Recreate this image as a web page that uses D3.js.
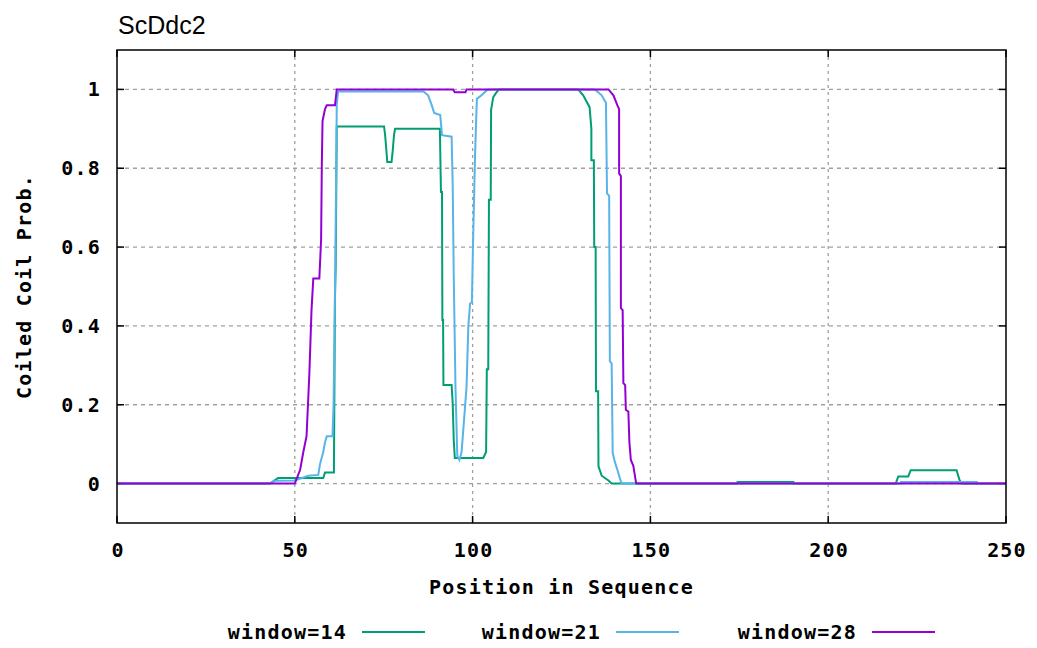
<!DOCTYPE html>
<html>
<head>
<meta charset="utf-8">
<script src="https://cdn.jsdelivr.net/npm/d3@7"></script>
<style>
  body { margin: 0; background: #fff; }
  .tick-label { font-family: "DejaVu Sans Mono", monospace; font-weight: bold; font-size: 20px; letter-spacing: 1.2px; fill: #000; }
</style>
</head>
<body>
<script>
const title = "ScDdc2";
const xTicks = [0, 50, 100, 150, 200, 250];
const yTicks = [0, 0.2, 0.4, 0.6, 0.8, 1];
const yTickLabels = ["0", "0.2", "0.4", "0.6", "0.8", "1"];
const seriesNames = ["window=14", "window=21", "window=28"];

// window=14
const pos14 = [0, 43, 45.3, 58, 58.5, 61, 61.3, 61.5, 61.8, 75.1, 75.4, 75.8, 76, 77.2, 77.5, 77.9, 78.2,
  90.8, 91.1, 91.4, 91.5, 91.7, 91.8, 94.1, 94.4, 94.7, 95, 103, 103.8, 104, 104.4, 104.6, 105.1, 105.2,
  105.8, 106.5, 107.4, 129.7, 131.1, 132, 132.9, 133.4, 133.4, 134.1, 134.2, 134.6, 134.7, 135.3, 135.4,
  136.3, 138.2, 139.1, 174.4, 174.5, 190.2, 190.3, 219, 219.7, 222.5, 223.2, 236.1, 236.9, 237.5, 250];
const val14 = [0, 0, 0.014, 0.014, 0.028, 0.028, 0.47, 0.55, 0.906, 0.906, 0.884, 0.84, 0.816, 0.816, 0.84, 0.884, 0.9,
  0.9, 0.74, 0.74, 0.415, 0.415, 0.25, 0.25, 0.204, 0.11, 0.065, 0.065, 0.08, 0.29, 0.29, 0.72, 0.72, 0.948,
  0.98, 0.99, 1, 1, 0.985, 0.97, 0.955, 0.9, 0.82, 0.82, 0.6, 0.6, 0.234, 0.234, 0.044,
  0.02, 0.008, 0, 0, 0.004, 0.004, 0, 0, 0.018, 0.018, 0.034, 0.034, 0.01, 0, 0];

// window=21
const pos21 = [0, 43, 44.5, 50, 53.8, 56.6, 57.1, 58, 58.5, 59, 60.6, 60.9, 61.4, 61.8, 62.2, 86.2, 87.5, 88.5,
  89.2, 90.9, 91.4, 94.1, 94.4, 94.7, 95.2, 95.7, 96.3, 96.9, 97.6, 98.3, 98.8, 99.3, 99.8, 100.1, 100.7,
  101.2, 102.5, 104, 104.8, 134.4, 136.3, 137.5, 137.8, 138.4, 138.6, 139.1, 139.4, 140, 140.7, 141.4, 141.9,
  220.4, 220.5, 241.8, 241.9, 250];
const val21 = [0, 0, 0.007, 0.008, 0.02, 0.022, 0.05, 0.08, 0.105, 0.12, 0.12, 0.2, 0.56, 0.964, 0.995, 0.995, 0.985, 0.96,
  0.94, 0.935, 0.884, 0.88, 0.761, 0.525, 0.238, 0.07, 0.06, 0.08, 0.162, 0.246, 0.4, 0.457, 0.46, 0.6, 0.837,
  0.976, 0.985, 0.998, 1, 1, 0.985, 0.966, 0.736, 0.73, 0.31, 0.305, 0.078, 0.055, 0.035, 0.014, 0,
  0, 0.004, 0.004, 0, 0];

// window=28
const pos28 = [0, 50, 51.5, 52.4, 53.3, 54.1, 54.7, 55.2, 56.9, 57.4, 57.6, 57.8, 58.5, 59, 61.3, 61.8, 94.5, 95,
  98, 98.3, 138.2, 139.6, 140.7, 141.2, 141.2, 141.7, 141.7, 142.2, 142.4, 142.9, 143.1, 143.8, 144.1, 144.5,
  145.2, 146, 250];
const val28 = [0, 0, 0.035, 0.08, 0.12, 0.28, 0.44, 0.52, 0.52, 0.62, 0.81, 0.92, 0.95, 0.96, 0.96, 1, 1, 0.993,
  0.993, 1, 1, 0.985, 0.96, 0.95, 0.787, 0.78, 0.445, 0.44, 0.255, 0.25, 0.187, 0.183, 0.104, 0.06,
  0.045, 0, 0];

const colors = ["#009e73", "#56b4e9", "#9400d3"];

const width = 1037, height = 648;
const margin = { top: 50, right: 31, bottom: 125, left: 117 };

const svg = d3.select("body").append("svg")
    .attr("width", width)
    .attr("height", height);

const x = d3.scaleLinear().domain([0, 250]).range([margin.left, width - margin.right]);
const y = d3.scaleLinear().domain([-0.1, 1.1]).range([height - margin.bottom, margin.top]);

// grid
svg.append("g")
    .selectAll("line")
    .data(xTicks.slice(1, -1))
    .join("line")
    .attr("x1", d => x(d)).attr("x2", d => x(d))
    .attr("y1", y(1.1)).attr("y2", y(-0.1))
    .attr("stroke", "#a0a0a0")
    .attr("stroke-width", 1.3)
    .attr("stroke-dasharray", "3,4");

svg.append("g")
    .selectAll("line")
    .data(yTicks)
    .join("line")
    .attr("x1", x(0)).attr("x2", x(250))
    .attr("y1", d => y(d)).attr("y2", d => y(d))
    .attr("stroke", "#a0a0a0")
    .attr("stroke-width", 1.3)
    .attr("stroke-dasharray", "4,4");

// tick marks on all four sides, pointing inward
const tickLen = 7;
const ticks = svg.append("g").attr("stroke", "#000").attr("stroke-width", 1.5);
xTicks.forEach(t => {
  ticks.append("line").attr("x1", x(t)).attr("x2", x(t)).attr("y1", y(-0.1)).attr("y2", y(-0.1) - tickLen);
  ticks.append("line").attr("x1", x(t)).attr("x2", x(t)).attr("y1", y(1.1)).attr("y2", y(1.1) + tickLen);
});
yTicks.forEach(t => {
  ticks.append("line").attr("x1", x(0)).attr("x2", x(0) + tickLen).attr("y1", y(t)).attr("y2", y(t));
  ticks.append("line").attr("x1", x(250)).attr("x2", x(250) - tickLen).attr("y1", y(t)).attr("y2", y(t));
});

// series
const series = [[pos14, val14], [pos21, val21], [pos28, val28]];
const line = d3.line().x(d => x(d[0])).y(d => y(d[1]));

series.forEach(([p, v], i) => {
  svg.append("path")
      .datum(p.map((d, j) => [d, v[j]]))
      .attr("d", line)
      .attr("fill", "none")
      .attr("stroke", colors[i])
      .attr("stroke-width", 2)
      .attr("stroke-linejoin", "miter");
});

// border
svg.append("rect")
    .attr("x", x(0)).attr("y", y(1.1))
    .attr("width", x(250) - x(0))
    .attr("height", y(-0.1) - y(1.1))
    .attr("fill", "none")
    .attr("stroke", "#000")
    .attr("stroke-width", 1.5);

// tick labels
svg.append("g")
    .selectAll("text")
    .data(xTicks)
    .join("text")
    .attr("class", "tick-label")
    .attr("x", d => x(d) + 1)
    .attr("y", y(-0.1) + 34)
    .attr("text-anchor", "middle")
    .text(d => d);

svg.append("g")
    .selectAll("text")
    .data(yTicks)
    .join("text")
    .attr("class", "tick-label")
    .attr("x", x(0) - 16)
    .attr("y", d => y(d) + 7)
    .attr("text-anchor", "end")
    .text((d, i) => yTickLabels[i]);

// axis titles
svg.append("text")
    .attr("class", "tick-label")
    .attr("x", (x(0) + x(250)) / 2)
    .attr("y", 594)
    .attr("text-anchor", "middle")
    .text("Position in Sequence");

svg.append("text")
    .attr("class", "tick-label")
    .attr("transform", `translate(31,${(y(1.1) + y(-0.1)) / 2}) rotate(-90)`)
    .attr("text-anchor", "middle")
    .text("Coiled Coil Prob.");

// title
svg.append("text")
    .attr("x", 118)
    .attr("y", 34)
    .attr("font-family", "Liberation Sans, Arial, sans-serif")
    .attr("font-size", 25)
    .attr("fill", "#000")
    .text(title);

// legend
const legendTextEnd = [347, 601, 857];
const legend = svg.append("g");
seriesNames.forEach((name, i) => {
  legend.append("text")
      .attr("class", "tick-label")
      .attr("x", legendTextEnd[i])
      .attr("y", 639)
      .attr("text-anchor", "end")
      .text(name);
  legend.append("line")
      .attr("x1", legendTextEnd[i] + 15)
      .attr("x2", legendTextEnd[i] + 78)
      .attr("y1", 632).attr("y2", 632)
      .attr("stroke", colors[i])
      .attr("stroke-width", 2);
});
</script>
</body>
</html>
